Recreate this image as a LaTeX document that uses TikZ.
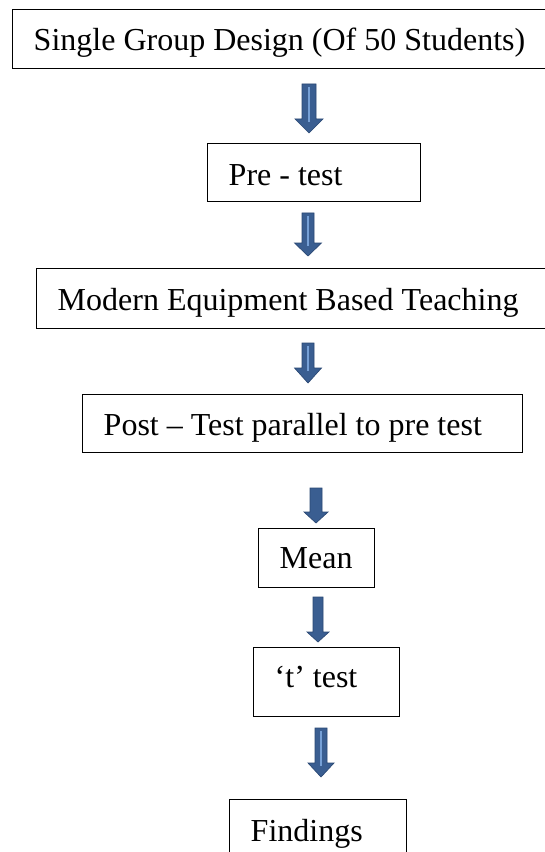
\documentclass[tikz,border=0pt]{standalone}
\usepackage{fontspec}
\setmainfont{Liberation Serif}

\definecolor{arrowfill}{RGB}{58,94,145}
\definecolor{arrowedge}{RGB}{42,72,116}
\definecolor{arrowshine}{RGB}{118,160,214}

\tikzset{
  flowbox/.style={draw=black, line width=1.1pt, anchor=north west,
    align=left, inner xsep=15.75pt, inner ysep=0pt,
    text height=22.5pt, text depth=5pt,
    font=\fontsize{24}{28}\selectfont,
    execute at begin node={\spaceskip=0pt\xspaceskip=0pt\relax}},
  blockarrow/.style={fill=arrowfill, draw=arrowedge, line width=0.5pt,
    line join=miter},
  shine/.style={draw=arrowshine, line width=1pt}
}

% block arrow pointing down: centre x, top, start of head, tip, half shaft, half head
\newcommand{\downblock}[6]{%
  \draw[blockarrow] (#1-#5,#2) -- (#1+#5,#2) -- (#1+#5,#3) -- (#1+#6,#3)
    -- (#1,#4) -- (#1-#6,#3) -- (#1-#5,#3) -- cycle;}
% light streak along the shaft of a block arrow
\newcommand{\shaftshine}[3]{%
  \draw[shine] (#1,#2+3) -- (#1,#3+3);}

\begin{document}
\begin{tikzpicture}[x=0.75pt, y=-0.75pt]
  \useasboundingbox (0,0) rectangle (545,852);
  \clip (0,0) rectangle (545,852);
  \fill[white] (0,0) rectangle (545,852);

  % steps of the study
  \node[flowbox, minimum width=411pt, minimum height=44.25pt, text width=379.5pt,
    text height=22.25pt]
    (design) at (12,9) {Single Group Design (Of 50 Students)};
  \node[flowbox, minimum width=159.75pt, minimum height=43.5pt, text width=128.25pt,
    text height=24.5pt]
    (pretest) at (207,143) {Pre - test};
  \node[flowbox, minimum width=393pt, minimum height=45pt, text width=361.5pt,
    text height=23pt]
    (teaching) at (36,268) {Modern Equipment Based Teaching};
  \node[flowbox, minimum width=330pt, minimum height=43.5pt, text width=298.5pt,
    text height=23pt]
    (posttest) at (82,394) {Post – Test parallel to pre test};
  \node[flowbox, minimum width=87pt, minimum height=44.25pt, text width=55.5pt,
    text height=21pt]
    (mean) at (258,528) {Mean};
  \node[flowbox, minimum width=109.5pt, minimum height=51.75pt, text width=78pt,
    text height=13.25pt]
    (ttest) at (253,647) {‘t’ test};
  \node[flowbox, minimum width=132.75pt, minimum height=51.75pt, text width=101.25pt,
    text height=16.25pt]
    (findings) at (229,799) {Findings};

  % block arrows between the steps
  \downblock{309}{84}{119}{133}{7}{14}
  \shaftshine{309}{84}{119}
  \downblock{308}{213}{243}{256}{6}{13.5}
  \shaftshine{308}{213}{243}
  \downblock{308}{343}{368}{383}{6}{13.5}
  \shaftshine{308}{343}{368}
  \downblock{316}{488}{512}{523}{6}{12}
  \downblock{318}{597}{632}{642}{5}{11}
  \downblock{321}{728}{763}{777}{6}{13}
  \shaftshine{321}{728}{763}
\end{tikzpicture}
\end{document}
